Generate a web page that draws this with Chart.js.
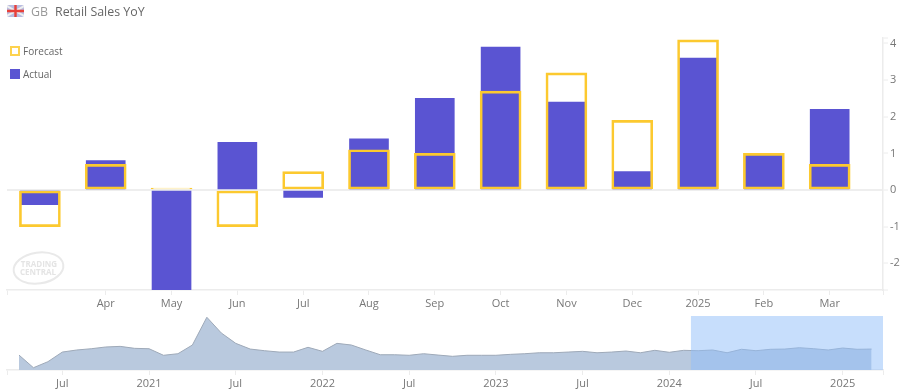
<!DOCTYPE html>
<html>
<head>
<meta charset="utf-8">
<title>GB Retail Sales YoY</title>
<script src="https://cdn.jsdelivr.net/npm/chart.js@4"></script>
<style>
html,body{margin:0;padding:0;background:#fff;overflow:hidden}
body{width:914px;height:390px;position:relative;font-family:"Open Sans",sans-serif}
canvas{position:absolute;left:0}
#main{top:0}
#overview{top:310px}
#title{position:absolute;left:7px;top:2px;height:20px;line-height:20px;font-size:12.4px;color:#666;white-space:nowrap}
#title svg{position:absolute;left:0;top:3px}
#title .cc{position:absolute;left:24px;color:#999}
#title .nm{position:absolute;left:48px;color:#666}
.leg{position:absolute;left:10px;font-size:10px;color:#666;line-height:14px;padding-left:13px}
.leg i{position:absolute;left:0;top:2px;width:10px;height:10px;box-sizing:border-box}
#wm{position:absolute;left:11px;top:250px}
</style>
</head>
<body>
<canvas id="main" width="914" height="310"></canvas>
<canvas id="overview" width="914" height="80"></canvas>
<div id="title">
  <svg width="17" height="12" viewBox="0 0 17 12"><rect width="17" height="12" rx="2" fill="#b9bce0"/><path d="M0 1 17 11M17 1 0 11" stroke="#eee" stroke-width="2"/><path d="M8.5 0V12M0 6H17" stroke="#e8413a" stroke-width="2.4"/></svg>
  <span class="cc">GB</span><span class="nm">Retail Sales YoY</span>
</div>
<div class="leg" style="top:44px"><i style="border:2px solid #fdd24e;background:#fff"></i>Forecast</div>
<div class="leg" style="top:67px"><i style="background:#5a54d2"></i>Actual</div>
<svg id="wm" width="56" height="38" viewBox="0 0 56 38">
  <ellipse cx="27.5" cy="18" rx="25" ry="15.5" transform="rotate(-8 27.5 18)" fill="none" stroke="#e9e9e9" stroke-width="2"/>
  <text x="28" y="17" text-anchor="middle" font-family="Open Sans" font-weight="700" font-size="8" fill="#e4e4e4">TRADING</text>
  <text x="27" y="25" text-anchor="middle" font-family="Open Sans" font-weight="700" font-size="8" fill="#e4e4e4">CENTRAL</text>
</svg>
<script>
// main chart, one bar per month
let months=["Mar","Apr","May","Jun","Jul","Aug","Sep","Oct","Nov","Dec","2025","Feb","Mar"];
let actual=[-0.4,0.8,-2.8,1.3,-0.2,1.4,2.5,3.9,2.4,0.5,3.6,1.0,2.2];
let forecast=[-1.0,0.7,0.05,-1.0,0.5,1.1,1.0,2.7,3.2,1.9,4.1,1.0,0.7];
let monthTicks=[1,2,3,4,5,6,7,8,9,10,11,12];
let yTicks=[-2,-1,0,1,2,3,4];

// overview chart, monthly from Apr 2020
let history=[-5.1,-21.1,-13.5,-1.3,1.3,2.9,5.1,5.9,3.4,2.9,-5.4,-3.4,7.6,42.7,22.8,9.7,2.5,0.4,-1.3,-1.3,
4.7,-0.4,9.7,7.6,1.3,-4.7,-4.7,-5.4,-3.4,-5.1,-6.7,-5.4,-5.4,-5.4,-4.2,-3.4,-2.2,-2.2,-1.3,-0.4,
-2.2,-1.3,0,-2.2,0.9,-1.6,0.9,0.4,1.3,-2.2,2.2,0.4,2.2,2.5,4.2,2.9,1.3,3.8,2.2,2.5];
let historyTicks=[3,9,15,21,27,33,39,45,51,57];
let historyLabels=["Jul","2021","Jul","2022","Jul","2023","Jul","2024","Jul","2025"];
let selection=[46.5,59.79];

let axisColor="#ececec";
let textColor="#777";
Chart.defaults.font.family='"Open Sans",sans-serif';
Chart.defaults.font.size=11;

const toPoints=(arr)=>arr.map((v,i)=>({x:i,y:v}));

new Chart(document.getElementById("main").getContext("2d"),{
    type:"bar",
    data:{
        datasets:[
            {label:"Forecast",data:toPoints(forecast),grouped:false,order:1,barThickness:41,
             backgroundColor:"rgba(0,0,0,0)",borderColor:"#fcc92f",borderWidth:2,borderSkipped:false},
            {label:"Actual",data:toPoints(actual),grouped:false,order:2,barThickness:39,
             backgroundColor:"#5a54d2"}
        ]
    },
    options:{
        responsive:false,
        animation:false,
        layout:{padding:{left:7,top:38,right:0,bottom:0}},
        plugins:{legend:{display:false},tooltip:{enabled:false}},
        scales:{
            x:{
                type:"linear",min:-0.5,max:12.81,offset:false,
                afterBuildTicks:(s)=>{s.ticks=[s.min,...monthTicks,s.max].map((v)=>({value:v}));},
                afterFit:(s)=>{s.height=20;s.paddingLeft=0;s.paddingRight=0;},
                grid:{offset:false,drawOnChartArea:false,tickLength:5,tickColor:axisColor},
                border:{color:axisColor,width:1.5},
                ticks:{color:textColor,maxRotation:0,autoSkip:false,padding:2,
                    callback:(v)=>monthTicks.includes(v)?months[v]:""}
            },
            y:{
                position:"right",min:-2.73,max:4.15,
                afterBuildTicks:(s)=>{s.ticks=[s.min,...yTicks,s.max].map((v)=>({value:v}));},
                afterFit:(s)=>{s.width=31;},
                grid:{color:(c)=>c.tick&&c.tick.value===0?"#eeeeee":"rgba(0,0,0,0)",lineWidth:2,tickLength:5,tickColor:axisColor,tickWidth:1},
                border:{color:axisColor,width:1.5},
                ticks:{color:textColor,padding:2,autoSkip:false,
                    callback:(v)=>yTicks.includes(v)?String(v):""}
            }
        }
    }
});

// blue range box of the navigator
const selectionBox={
    id:"selectionBox",
    afterDatasetsDraw(chart){
        let x=chart.scales.x,area=chart.chartArea,c=chart.ctx;
        let a=x.getPixelForValue(selection[0]),b=x.getPixelForValue(selection[1]);
        c.save();
        c.fillStyle="rgba(144,190,250,0.5)";
        c.fillRect(a,area.top,b-a,area.bottom-area.top);
        c.restore();
    }
};

new Chart(document.getElementById("overview").getContext("2d"),{
    type:"line",
    data:{
        datasets:[{label:"History",data:toPoints(history),fill:"start",tension:0,pointRadius:0,
            borderWidth:1,borderColor:"#9ea9b8",backgroundColor:"#b9c9de"}]
    },
    plugins:[selectionBox],
    options:{
        responsive:false,
        animation:false,
        layout:{padding:{left:7,top:6,right:31,bottom:0}},
        plugins:{legend:{display:false},tooltip:{enabled:false}},
        scales:{
            x:{
                type:"linear",min:-0.83,max:59.79,offset:false,
                afterBuildTicks:(s)=>{s.ticks=[s.min,...historyTicks,s.max].map((v)=>({value:v}));},
                afterFit:(s)=>{s.height=20;s.paddingLeft=0;s.paddingRight=0;},
                grid:{drawOnChartArea:false,tickLength:5,tickColor:axisColor},
                border:{color:axisColor,width:1.5},
                ticks:{color:textColor,maxRotation:0,autoSkip:false,padding:2,
                    callback:(v)=>{let i=historyTicks.indexOf(v);return i>=0?historyLabels[i]:"";}}
            },
            y:{display:false,min:-24,max:44.3}
        }
    }
});
</script>
</body>
</html>
